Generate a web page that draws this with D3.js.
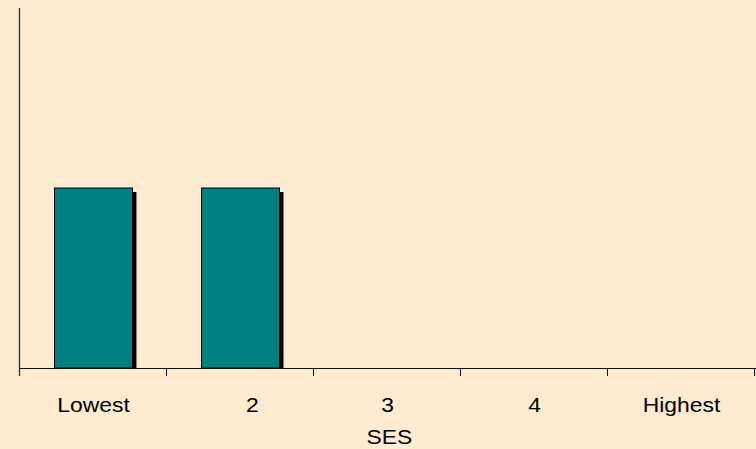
<!DOCTYPE html>
<html>
<head>
<meta charset="utf-8">
<script src="https://cdn.jsdelivr.net/npm/d3@7"></script>
<style>
  html, body { margin: 0; padding: 0; background: #FEEBD2; }
  svg { display: block; }
  text { font-family: "Liberation Sans", Arial, sans-serif; fill: #000; }
</style>
</head>
<body>
<svg id="chart" width="756" height="449"></svg>
<script>
// SES groups and their values
const categories = ["Lowest", "2", "3", "4", "Highest"];
const values = [1, 1, 0, 0, 0];
const yMax = 2;
const xTitle = "SES";

const W = 756, H = 449;
const plotLeft = 20, plotRight = 755, plotTop = 8, plotBottom = 368;

const svg = d3.select("#chart");
svg.append("rect").attr("width", W).attr("height", H).attr("fill", "#FEEBD2");

const x = d3.scaleBand().domain(categories).range([plotLeft, plotRight]).padding(0);
const y = d3.scaleLinear().domain([0, yMax]).range([plotBottom, plotTop]);

const bw = x.bandwidth();
const barOff = 0.235, barFrac = 0.53;
const data = categories.map((c, i) => ({ c, v: values[i] }));
const shown = data.filter(d => d.v > 0);

// drop shadows
svg.append("g").selectAll("rect").data(shown).join("rect")
  .attr("x", d => x(d.c) + bw * barOff + 4)
  .attr("y", d => y(d.v) + 4)
  .attr("width", bw * barFrac)
  .attr("height", d => plotBottom - y(d.v) - 4)
  .attr("fill", "#000");

// bars
svg.append("g").selectAll("rect").data(shown).join("rect")
  .attr("x", d => x(d.c) + bw * barOff)
  .attr("y", d => y(d.v))
  .attr("width", bw * barFrac)
  .attr("height", d => plotBottom - y(d.v))
  .attr("fill", "#008080")
  .attr("stroke", "#000")
  .attr("stroke-width", 1);

// y axis line
svg.append("line")
  .attr("x1", plotLeft - 0.5).attr("x2", plotLeft - 0.5)
  .attr("y1", plotTop).attr("y2", plotBottom + 8)
  .attr("stroke", "#333").attr("stroke-width", 1.3);

// x axis: labels at band centres
const xAxis = d3.axisBottom(x).tickSize(0).tickPadding(0);
const gx = svg.append("g").attr("transform", `translate(0,${plotBottom})`).call(xAxis);
gx.select(".domain").remove();
gx.selectAll(".tick text")
  .attr("y", 0).attr("dy", null)
  .attr("dx", d => d === "2" ? 11 : 0)
  .style("font-size", "21px")
  .attr("transform", "translate(0,44) scale(1.09,1)");

// x axis line and boundary ticks
svg.append("line")
  .attr("x1", plotLeft).attr("x2", plotRight + 1)
  .attr("y1", plotBottom + 0.5).attr("y2", plotBottom + 0.5)
  .attr("stroke", "#111").attr("stroke-width", 1.2);
const bounds = categories.map(c => x(c)).concat([plotRight]).slice(1);
svg.append("g").selectAll("line").data(bounds).join("line")
  .attr("x1", d => Math.round(d) - 0.5).attr("x2", d => Math.round(d) - 0.5)
  .attr("y1", plotBottom).attr("y2", plotBottom + 8)
  .attr("stroke", "#111").attr("stroke-width", 1);

// axis title
svg.append("text")
  .attr("transform", `translate(${(plotLeft + plotRight) / 2 + 2},444) scale(1.09,1)`)
  .attr("text-anchor", "middle")
  .style("font-size", "21px")
  .text(xTitle);
</script>
</body>
</html>
